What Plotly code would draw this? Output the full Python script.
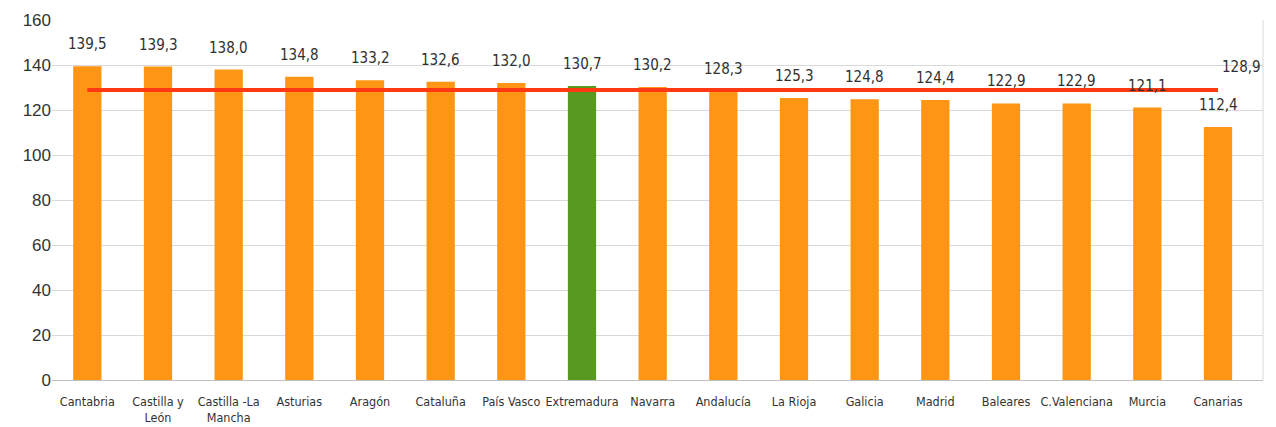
import plotly.graph_objects as go

regions = ["Cantabria", "Castilla y<br>León", "Castilla -La<br>Mancha", "Asturias", "Aragón",
           "Cataluña", "País Vasco", "Extremadura", "Navarra", "Andalucía", "La Rioja",
           "Galicia", "Madrid", "Baleares", "C.Valenciana", "Murcia", "Canarias"]
values = [139.5, 139.3, 138.0, 134.8, 133.2, 132.6, 132.0, 130.7, 130.2, 128.3, 125.3,
          124.8, 124.4, 122.9, 122.9, 121.1, 112.4]
average = 128.9
highlight = "Extremadura"

ORANGE = "#fe9514"
GREEN = "#579a1f"
RED = "#ff3a12"
NARROW = "Liberation Sans Narrow, DejaVu Sans Condensed, sans-serif"

colors = [GREEN if r == highlight else ORANGE for r in regions]

def fmt(v):
    return f"{v:.1f}".replace(".", ",")

fig = go.Figure()
fig.add_trace(go.Bar(x=regions, y=values, marker=dict(color=colors, line=dict(width=0)),
                     hoverinfo="skip"))
fig.add_trace(go.Scatter(x=[regions[0], regions[-1]], y=[average, average], mode="lines",
                         line=dict(color=RED, width=4), hoverinfo="skip"))

for r, v in zip(regions, values):
    fig.add_annotation(x=r, y=v, text=fmt(v), showarrow=False, yanchor="bottom", yshift=11,
                       font=dict(family=NARROW, size=15, color="#303030"))
fig.add_annotation(x=regions[-1], y=average, text=fmt(average), showarrow=False,
                   xanchor="left", yanchor="bottom", xshift=2, yshift=12,
                   font=dict(family=NARROW, size=15, color="#303030"))

fig.update_layout(
    width=1276, height=427,
    margin=dict(l=52, r=13, t=20, b=47, autoexpand=False),
    paper_bgcolor="white", plot_bgcolor="white",
    showlegend=False, bargap=0.6,
    xaxis=dict(type="category", showgrid=False, ticks="", showline=True, linecolor="#bfbfbf",
               linewidth=1, mirror=False, automargin=False, ticklabelstandoff=10,
               tickfont=dict(family=NARROW, size=12.5, color="#333333")),
    yaxis=dict(range=[0, 160], dtick=20, showgrid=True, gridcolor="#d9d9d9", gridwidth=1,
               zeroline=False, ticks="", ticklen=0, automargin=False,
               tickfont=dict(family="Liberation Sans, Arial, sans-serif", size=17, color="#333333")),
)
fig.add_shape(type="line", xref="paper", yref="paper", x0=1, x1=1, y0=0, y1=1,
              line=dict(color="#d9d9d9", width=1))

fig.write_html("out.html", config={"displayModeBar": False},
               post_script="document.body.style.margin='0';document.body.style.overflow='hidden';")
